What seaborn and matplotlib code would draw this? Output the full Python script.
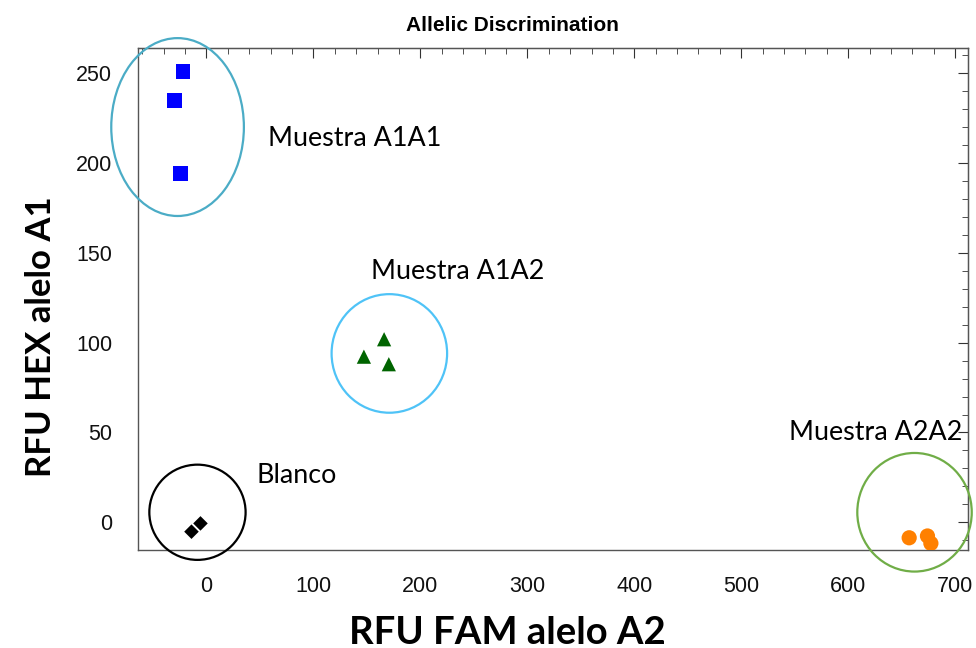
import matplotlib
matplotlib.use("Agg")
import matplotlib.pyplot as plt
from matplotlib.patches import Ellipse
from matplotlib.ticker import MultipleLocator
import numpy as np
import pandas as pd
import seaborn as sns

# ---- data ----
groups = ["A1A1", "A1A1", "A1A1",
          "A1A2", "A1A2", "A1A2",
          "A2A2", "A2A2", "A2A2",
          "Blanco", "Blanco"]
fam_x = [-21.9, -29.7, -24.3,
         166.1, 147.2, 170.5,
         657.0, 674.1, 677.3,
         -14.0, -5.6]
hex_y = [250.9, 234.7, 194.3,
         101.9, 92.2, 88.0,
         -8.6, -7.6, -11.7,
         -5.2, -0.6]

cluster_names = ["Muestra A1A1", "Muestra A1A2", "Blanco", "Muestra A2A2"]
cluster_cx = [-27, 171, -8.4, 662]
cluster_cy = [220, 94, 5.6, 5.6]
cluster_w = [124, 108, 90, 107]
cluster_h = [99, 66, 53, 66]
label_x = [58, 154, 47, 545]
label_y = [213.5, 139.5, 25.8, 49.8]

x_ticks = [0, 100, 200, 300, 400, 500, 600, 700]
y_ticks = [0, 50, 100, 150, 200, 250]

palette = {"A1A1": "#0000FF", "A1A2": "#006400", "A2A2": "#FF8000", "Blanco": "#000000"}
markers = {"A1A1": "s", "A1A2": "^", "A2A2": "o", "Blanco": "D"}
sizes = {"A1A1": 115, "A1A2": 105, "A2A2": 120, "Blanco": 55}
ell_colors = ["#4BACC6", "#4FC3F7", "#000000", "#70AD47"]

df = pd.DataFrame({"FAM": fam_x, "HEX": hex_y, "Grupo": groups})

sns.set_style("white")
plt.rcParams["font.family"] = ["Liberation Sans", "DejaVu Sans"]
plt.rcParams["text.color"] = "black"
plt.rcParams["axes.labelcolor"] = "black"

fig = plt.figure(figsize=(9.76, 6.48), dpi=100)
ax = fig.add_axes([138/976, 1-550/648, (968-138)/976, (550-48)/648])

sns.scatterplot(data=df, x="FAM", y="HEX", hue="Grupo", style="Grupo",
                palette=palette, markers=markers, size="Grupo", sizes=sizes,
                linewidth=0, legend=False, ax=ax, zorder=3)

ax.set_xlim(-64, 712)
ax.set_ylim(-15.4, 264)

for cx, cy, w, h, c in zip(cluster_cx, cluster_cy, cluster_w, cluster_h, ell_colors):
    ax.add_patch(Ellipse((cx, cy), w, h, fill=False, edgecolor=c, linewidth=1.6,
                         clip_on=False, zorder=4))
for name, lx, ly in zip(cluster_names, label_x, label_y):
    ax.text(lx, ly, name, fontsize=19.4, family=["Lato", "DejaVu Sans"],
            ha="left", va="center", color="black")

ax.set_xticks(x_ticks)
ax.set_yticks(y_ticks)
ax.xaxis.set_minor_locator(MultipleLocator(20))
ax.yaxis.set_minor_locator(MultipleLocator(10))
ax.tick_params(which="both", direction="inout", color="#333333", width=1,
               labelsize=15.5, labelcolor="#111111")
ax.tick_params(which="major", length=11, pad=13)
ax.tick_params(which="minor", length=5)
for s in ax.spines.values():
    s.set_color("#555555")
    s.set_linewidth(1)

secx = ax.secondary_xaxis("top")
secx.set_xticks(x_ticks)
secx.xaxis.set_minor_locator(MultipleLocator(20))
secx.tick_params(which="both", direction="in", labeltop=False, color="#333333")
secx.tick_params(which="major", length=7)
secx.tick_params(which="minor", length=4)
secy = ax.secondary_yaxis("right")
secy.set_yticks(y_ticks)
secy.yaxis.set_minor_locator(MultipleLocator(10))
secy.tick_params(which="both", direction="in", labelright=False, color="#333333")
secy.tick_params(which="major", length=7)
secy.tick_params(which="minor", length=4)

ax.set_xlabel("RFU FAM alelo A2", fontsize=27.5, fontweight="bold",
              family=["Lato", "DejaVu Sans"])
ax.set_ylabel("RFU HEX alelo A1", fontsize=25, fontweight="bold",
              family=["Lato", "DejaVu Sans"])
ax.xaxis.set_label_coords(0.4446, -0.131)
ax.yaxis.set_label_coords(-0.097, 0.425)

fig.text(512/976, 1-31/648, "Allelic Discrimination", ha="center", va="baseline",
         fontsize=15, fontweight="bold")

fig.savefig("out.png", dpi=100)
